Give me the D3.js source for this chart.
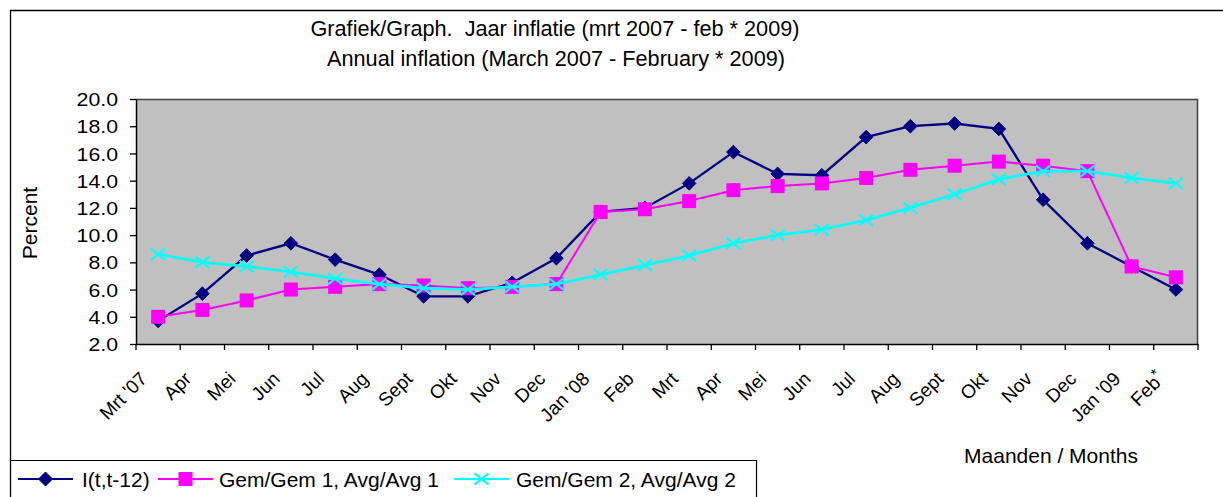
<!DOCTYPE html>
<html><head><meta charset="utf-8">
<script src="https://cdn.jsdelivr.net/npm/d3@7"></script>
<style>body{margin:0;background:#fff;} text{font-family:"Liberation Sans",Arial,sans-serif;fill:#000;}</style>
</head><body>
<svg id="c" width="1223" height="497"></svg>
<script>
const months = ["Mrt '07","Apr","Mei","Jun","Jul","Aug","Sept","Okt","Nov","Dec","Jan '08","Feb","Mrt","Apr","Mei","Jun","Jul","Aug","Sept","Okt","Nov","Dec","Jan '09","Feb*"];
const inflation = [3.7,5.7,8.5,9.4,8.2,7.1,5.5,5.5,6.5,8.3,11.7,12.0,13.8,16.1,14.5,14.4,17.2,18.0,18.2,17.8,12.6,9.4,7.7,6.0];
const avg1 = [4.0,4.5,5.2,6.0,6.2,6.4,6.3,6.1,6.2,6.4,11.7,11.9,12.5,13.3,13.6,13.8,14.2,14.8,15.1,15.4,15.1,14.7,7.7,6.9];
const avg2 = [8.6,8.0,7.7,7.3,6.8,6.4,6.1,6.0,6.2,6.4,7.1,7.8,8.5,9.4,10.0,10.4,11.1,12.0,13.0,14.1,14.7,14.7,14.2,13.8];
const yTicks = [2,4,6,8,10,12,14,16,18,20];
const seriesNames = ["I(t,t-12)","Gem/Gem 1, Avg/Avg 1","Gem/Gem 2, Avg/Avg 2"];

const svg = d3.select("#c");
const L=136, R=1198, T=99, B=344;
const keys = months.map((m,i)=>i);
const x = d3.scaleBand().domain(keys).range([L,R]);
const y = d3.scaleLinear().domain([2,20]).range([B,T]);
const cx = i => x(i)+x.bandwidth()/2;
const stretch = (sel,k) => sel.each(function(){ const n=this.getComputedTextLength(); d3.select(this).attr("textLength",n*k).attr("lengthAdjust","spacingAndGlyphs"); });

// outer border
svg.append("path").attr("d","M10.5,1000 V10.5 H1300").attr("fill","none").attr("stroke","#000").attr("stroke-width",1.3);

// plot area
svg.append("rect").attr("x",L).attr("y",T).attr("width",R-L).attr("height",B-T).attr("fill","#C0C0C0");
svg.append("path").attr("d",`M${L},${T+0.5} H${R-0.5} V${B}`).attr("fill","none").attr("stroke","#404040").attr("stroke-width",1.5);

// y axis
const ya = svg.append("g").attr("transform",`translate(${L},0)`)
  .call(d3.axisLeft(y).tickValues(yTicks).tickFormat(d3.format(".1f")).tickSize(6).tickSizeOuter(0));
ya.select(".domain").attr("stroke","#000").attr("stroke-width",1.5);
ya.selectAll(".tick line").attr("stroke","#000").attr("stroke-width",1.3);
ya.selectAll(".tick text").attr("font-size",19).attr("x",-18).attr("dy","0.35em").style("font-family","Liberation Sans, Arial").call(stretch,1.12);

// x axis
const xa = svg.append("g").attr("transform",`translate(0,${B})`)
  .call(d3.axisBottom(x).tickSize(0).tickFormat(""));
xa.select(".domain").attr("stroke","#000").attr("stroke-width",1.5);
const tickPos = keys.map(i=>x(i)).concat([R]);
svg.append("g").selectAll("line").data(tickPos).join("line")
  .attr("x1",d=>d).attr("x2",d=>d).attr("y1",B).attr("y2",B+6).attr("stroke","#000").attr("stroke-width",1.3);
const xl = svg.append("g").selectAll("text").data(months).join("text")
  .attr("transform",(d,i)=>`translate(${cx(i)-10},${B+36}) rotate(-45)`)
  .attr("text-anchor","end").attr("font-size",19);
xl.each(function(d){
  const t=d3.select(this);
  if(d.endsWith("*")){ t.append("tspan").text(d.slice(0,-1)); t.append("tspan").attr("dy",-7).attr("font-size",15).text("*"); }
  else t.text(d);
});

// titles
svg.append("text").attr("x",555).attr("y",36).attr("text-anchor","middle").attr("font-size",21.5).attr("xml:space","preserve").text("Grafiek/Graph.  Jaar inflatie (mrt 2007 - feb * 2009)").attr("textLength",489).attr("lengthAdjust","spacingAndGlyphs");
svg.append("text").attr("x",556).attr("y",66).attr("text-anchor","middle").attr("font-size",21.5).text("Annual inflation (March 2007 - February * 2009)").attr("textLength",458).attr("lengthAdjust","spacingAndGlyphs");
svg.append("text").attr("transform",`translate(37,223) rotate(-90)`).attr("text-anchor","middle").attr("font-size",21).text("Percent");
svg.append("text").attr("x",1051).attr("y",463).attr("text-anchor","middle").attr("font-size",21).text("Maanden / Months");

const line = d3.line().x((d,i)=>cx(i)).y(d=>y(d));
const diamond = (g, px, py, s=6.8) => g.append("path").attr("d",`M${px},${py-s} L${px+s},${py} L${px},${py+s} L${px-s},${py} Z`).attr("fill","#000080").attr("stroke","#000080");
const square = (g, px, py, s=7) => g.append("rect").attr("x",px-s).attr("y",py-s).attr("width",2*s).attr("height",2*s).attr("fill","#FF00FF");
const cross = (g, px, py, s=7) => g.append("path").attr("d",`M${px-s},${py-s*0.8} L${px+s},${py+s*0.8} M${px-s},${py+s*0.8} L${px+s},${py-s*0.8}`).attr("stroke","#00FFFF").attr("stroke-width",2.2).attr("fill","none");

const g1 = svg.append("g");
g1.append("path").datum(inflation).attr("d",line).attr("fill","none").attr("stroke","#000080").attr("stroke-width",2.3);
inflation.forEach((v,i)=>diamond(g1,cx(i),y(v)));
const g2 = svg.append("g");
g2.append("path").datum(avg1).attr("d",line).attr("fill","none").attr("stroke","#FF00FF").attr("stroke-width",2);
avg1.forEach((v,i)=>square(g2,cx(i),y(v)));
const g3 = svg.append("g");
g3.append("path").datum(avg2).attr("d",line).attr("fill","none").attr("stroke","#00FFFF").attr("stroke-width",2.8);
avg2.forEach((v,i)=>cross(g3,cx(i),y(v)));

// legend
svg.append("path").attr("d","M10.5,460.5 H756.5 V500").attr("fill","none").attr("stroke","#000").attr("stroke-width",1.2);
const lg = svg.append("g");
const ly = 479;
const items = [{x:18,tx:82,t:seriesNames[0],c:"#000080",m:diamond},{x:158,tx:219,t:seriesNames[1],c:"#FF00FF",m:square},{x:454,tx:516,t:seriesNames[2],c:"#00FFFF",m:cross}];
items.forEach(it=>{
  lg.append("line").attr("x1",it.x).attr("x2",it.x+55).attr("y1",ly).attr("y2",ly).attr("stroke",it.c).attr("stroke-width",2.2);
  it.m(lg,it.x+27.5,ly,7);
  lg.append("text").attr("x",it.tx).attr("y",ly+7.5).attr("font-size",21).text(it.t);
});
</script>
</body></html>
